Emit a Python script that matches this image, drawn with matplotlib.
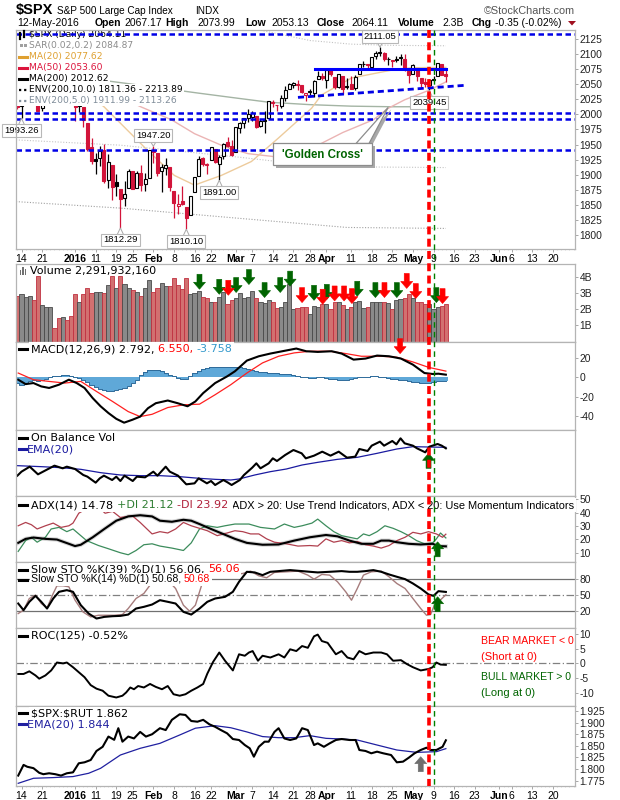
import numpy as np
import matplotlib
matplotlib.use('Agg')
import matplotlib.pyplot as plt
from matplotlib.patches import Rectangle, Polygon
from matplotlib.lines import Line2D
from matplotlib.transforms import IdentityTransform

plt.rcParams['font.family'] = ['Liberation Sans', 'DejaVu Sans']

W, H = 620, 800
L, R = 16, 575
X0, DX = 21.5, 4.12          # pixel of day 0 and pixels per trading day
XLIM = ((L - X0) / DX, (R - X0) / DX)

# ---- $SPX daily, 11-Dec-2015 .. 12-May-2016 (day 0 = 14-Dec) ----
day = np.arange(-1, 104)
opens = [2047.27, 2013.37, 2025.55, 2046.50, 2073.76, 2040.81, 2010.27, 2023.15, 2042.20, 2063.52,
         2057.77, 2060.54, 2077.34, 2060.59, 2038.20, 2013.78, 2011.71, 1985.32, 1945.97, 1926.12,
         1927.83, 1940.34, 1891.68, 1916.68, 1888.66, 1876.18, 1861.46, 1877.40, 1906.28, 1878.79,
         1902.52, 1885.22, 1894.00, 1936.94, 1935.26, 1907.07, 1911.67, 1913.07, 1873.25, 1848.46,
         1857.10, 1847.00, 1833.40, 1871.44, 1898.80, 1927.57, 1916.74, 1924.44, 1942.38, 1917.56,
         1931.87, 1954.95, 1947.13, 1937.09, 1976.60, 1985.60, 1994.01, 1996.11, 1996.88, 1981.44,
         1990.97, 1994.71, 2019.27, 2015.27, 2014.24, 2026.90, 2041.16, 2048.64, 2048.64, 2048.55,
         2032.48, 2037.89, 2035.75, 2058.27, 2063.77, 2056.62, 2073.19, 2062.50, 2045.56, 2063.01,
         2045.54, 2050.23, 2043.72, 2065.92, 2082.89, 2083.10, 2078.83, 2096.05, 2101.52, 2102.09,
         2091.49, 2089.37, 2089.84, 2092.57, 2090.93, 2071.82, 2067.17, 2077.18, 2060.30, 2052.95,
         2047.77, 2057.55, 2062.63, 2083.29, 2067.17]
highs = [2047.27, 2022.92, 2053.87, 2076.72, 2076.37, 2040.81, 2022.90, 2042.74, 2064.73, 2067.36,
         2057.77, 2081.56, 2077.34, 2062.54, 2038.20, 2021.94, 2011.71, 1985.32, 1960.40, 1935.65,
         1947.38, 1950.33, 1934.47, 1916.68, 1901.44, 1876.18, 1889.85, 1908.85, 1906.28, 1906.73,
         1916.99, 1902.96, 1940.24, 1947.20, 1935.26, 1918.01, 1927.35, 1913.07, 1873.25, 1868.25,
         1881.60, 1847.00, 1864.78, 1895.77, 1930.68, 1930.00, 1918.78, 1946.70, 1942.38, 1932.08,
         1951.83, 1962.96, 1958.27, 1978.35, 1986.51, 1993.69, 2009.13, 2006.12, 1996.88, 1992.69,
         2005.08, 2022.37, 2024.06, 2015.94, 2032.02, 2046.24, 2052.36, 2053.91, 2056.60, 2048.55,
         2036.04, 2042.67, 2055.91, 2072.21, 2067.92, 2075.07, 2074.02, 2062.50, 2067.33, 2063.01,
         2060.63, 2062.93, 2065.05, 2083.18, 2087.84, 2083.22, 2094.66, 2104.05, 2111.05, 2103.78,
         2094.32, 2089.37, 2096.87, 2099.89, 2099.30, 2073.85, 2083.42, 2077.18, 2060.30, 2060.23,
         2057.72, 2064.15, 2084.87, 2083.29, 2073.99]
lows = [2008.80, 1993.26, 2025.55, 2042.43, 2041.66, 2005.33, 2005.93, 2020.49, 2042.20, 2058.73,
        2044.20, 2060.54, 2061.97, 2043.62, 1989.68, 2004.17, 1979.05, 1938.83, 1918.46, 1901.10,
        1914.35, 1886.41, 1878.93, 1857.83, 1864.60, 1812.29, 1848.98, 1877.40, 1875.97, 1878.79,
        1872.70, 1873.65, 1894.00, 1920.03, 1897.29, 1872.23, 1900.52, 1872.65, 1828.46, 1834.94,
        1850.32, 1810.10, 1833.40, 1871.44, 1898.80, 1915.09, 1902.17, 1924.44, 1919.44, 1891.00,
        1925.41, 1945.78, 1931.81, 1937.09, 1968.80, 1977.37, 1986.77, 1989.38, 1977.43, 1979.84,
        1969.25, 1994.71, 2012.05, 2005.23, 2010.04, 2022.16, 2041.16, 2043.14, 2040.57, 2034.86,
        2022.49, 2031.96, 2028.31, 2058.27, 2057.46, 2043.98, 2062.57, 2042.56, 2043.09, 2033.80,
        2041.69, 2041.88, 2039.74, 2065.92, 2078.13, 2076.31, 2073.65, 2091.68, 2096.32, 2088.52,
        2081.20, 2077.52, 2085.80, 2082.31, 2071.62, 2052.28, 2066.11, 2054.89, 2045.55, 2045.77,
        2039.45, 2054.31, 2062.63, 2064.46, 2053.13]
closes = [2012.37, 2021.94, 2043.41, 2073.07, 2041.89, 2005.55, 2021.15, 2038.97, 2064.29, 2060.99,
          2056.50, 2078.36, 2063.36, 2043.94, 2012.66, 2016.71, 1990.26, 1943.09, 1922.03, 1923.67,
          1938.68, 1890.28, 1921.84, 1880.33, 1881.33, 1859.33, 1868.99, 1906.90, 1877.08, 1903.63,
          1882.95, 1893.36, 1940.24, 1939.38, 1903.03, 1912.53, 1915.45, 1880.05, 1853.44, 1852.21,
          1851.86, 1829.08, 1864.78, 1895.58, 1926.82, 1917.83, 1917.78, 1945.50, 1921.27, 1929.80,
          1951.70, 1948.05, 1932.23, 1978.35, 1986.45, 1993.40, 1999.99, 2001.76, 1979.26, 1989.26,
          1989.57, 2022.19, 2019.64, 2015.93, 2027.22, 2040.59, 2049.58, 2051.60, 2049.80, 2036.71,
          2035.94, 2037.05, 2055.01, 2063.95, 2059.74, 2072.78, 2066.13, 2045.17, 2066.66, 2041.91,
          2047.60, 2041.99, 2061.72, 2082.42, 2082.78, 2080.73, 2094.34, 2100.80, 2102.40, 2091.48,
          2091.58, 2087.79, 2091.70, 2095.15, 2075.81, 2065.30, 2081.43, 2063.37, 2051.12, 2050.63,
          2057.14, 2058.69, 2084.39, 2064.46, 2064.11]
volume_b = [2.81, 2.91, 2.77, 2.81, 2.56, 4.04, 2.26, 2.10, 2.10, 0.86,
            1.48, 1.54, 1.33, 1.58, 2.93, 2.46, 2.93, 3.32, 3.01, 3.08,
            3.04, 2.97, 3.49, 4.05, 3.28, 4.05, 3.53, 3.32, 3.18, 3.08,
            2.81, 3.32, 3.78, 3.08, 3.32, 3.59, 3.43, 3.43, 3.90, 3.49,
            3.22, 3.90, 2.91, 2.97, 3.12, 2.77, 2.71, 2.46, 2.46, 2.77,
            3.04, 2.30, 2.56, 2.71, 2.97, 2.71, 2.77, 3.12, 2.71, 2.46,
            2.36, 2.56, 2.46, 2.05, 2.10, 2.41, 3.53, 2.00, 2.05, 2.15,
            2.10, 1.68, 2.20, 2.15, 2.30, 2.30, 2.00, 2.46, 2.41, 2.26,
            2.00, 2.10, 2.46, 2.51, 2.05, 2.10, 2.41, 2.41, 2.46, 2.41,
            2.36, 2.00, 2.56, 2.61, 2.71, 2.92, 2.71, 2.46, 2.41, 2.30,
            2.30, 2.00, 2.10, 2.20, 2.29]

# overlays (day, value)
ma20_x = [0, 10, 16, 20.1, 30.8, 37.1, 42, 48.5, 55.8, 62.4, 70.4, 72.8, 80.1, 89.8, 94.6, 103]
ma20_v = [2045, 2052, 2035, 2012, 1939, 1899, 1883, 1899, 1922, 1961, 2010, 2032, 2060, 2073, 2077, 2077.6]
ma50_x = [0, 12, 22, 29.1, 36.4, 42, 49.5, 55, 62.1, 66, 72.8, 78, 85.4, 89, 93, 99, 103]
ma50_v = [2062, 2058, 2035, 2012, 1991, 1968, 1946, 1935, 1929.5, 1935, 1952, 1970, 1991, 2010, 2024, 2040, 2053.6]
ma200_x = [-2, 10, 20, 30, 43, 52, 60, 70, 80, 90, 103]
ma200_v = [2064, 2060, 2056, 2047, 2035, 2027, 2020, 2016, 2013.5, 2012.5, 2012.6]
env5_up_x = [40, 56, 63, 70, 80, 90, 103]
env5_up_v = [2152, 2142, 2132, 2122, 2116, 2114, 2113.3]
env5_lo_x = [-2, 24, 53, 70, 84, 103]
env5_lo_v = [1958, 1949, 1929, 1916, 1913, 1912]
env10_lo_x = [-2, 24, 53, 79, 103]
env10_lo_v = [1856, 1845, 1828, 1813, 1811.4]

# MACD(12,26,9)
macd_x = [-0.8, 1.0, 2.9, 4.8, 6.7, 9.1, 11.5, 13.4, 15.3, 17.3, 19.2, 21.1, 23.0, 24.9, 26.9, 28.8,
          30.7, 32.6, 35.5, 37.9, 40.3, 42.2, 44.1, 47.0, 49.9, 51.8, 54.7, 57.6, 60.4, 63.3, 66.7,
          69.1, 71.9, 75.3, 77.7, 80.6, 83.5, 86.3, 89.2, 92.1, 95.0, 97.8, 99.8, 101.2, 103]
macd_v = [-2.4, -7, -5.9, -9.4, -11, -7.6, -2.4, -5.9, -11, -21.6, -30, -37, -43, -47, -44, -40.7,
          -32, -26.8, -24, -26.8, -30, -25, -16.3, -5.9, 1, 6.3, 17.4, 21.9, 24.7, 27.1, 29.9,
          27.1, 26.4, 27.1, 24.7, 18.4, 19.5, 22.6, 21.9, 19.5, 13.2, 4.5, 3.5, 3.8, 2.8]
signal_x = [-0.8, 2.9, 6.7, 10.5, 14.4, 18.2, 22.1, 25.9, 28.8, 31.7, 35.5, 39.3, 43.2, 47.0, 50.8,
            54.7, 58.5, 62.4, 66.2, 70.0, 74.8, 78.7, 82.5, 87.3, 91.1, 95.0, 98.8, 103]
signal_v = [4.5, -2.4, -4.2, -5.9, -4.2, -14.6, -25, -35.5, -40.7, -38.3, -31.3, -28.5, -27.8, -18,
            -7.6, 4.5, 15, 21.9, 25.4, 27.1, 27.1, 24.7, 21.9, 21.9, 20.9, 16, 10.4, 6.5]
macd_hist = [-6, -8, -6, -4, -3, -4, -3, -2, 0, 1,
             1, 2, 2, 1, 0, -1, -3, -5, -8, -10,
             -12, -13, -14, -14, -13, -12, -11, -9, -6, -3,
             2, 6, 8, 8, 8, 7, 5, 2, 1, -1,
             -2, -2, 1, 5, 7, 9, 10, 11, 11, 11,
             11, 11, 11, 11, 11, 10, 9, 8, 7, 6,
             6, 5, 5, 5, 4, 4, 3, 2, 1, 0,
             0, -1, -1, 0, 0, -1, -2, -2, -3, -3,
             -3, -2, -1, 0, 0, 0, 1, 1, 0, 0,
             -1, -2, -2, -3, -3, -4, -5, -5, -6, -6,
             -6, -5, -4, -4, -3.8]

# On Balance Volume (panel units, no scale shown)
obv_x = [-1, 0, 2, 4, 6, 8, 10, 11, 13, 15, 16, 18, 19, 20, 22, 23, 24, 25, 27, 28,
         30, 32, 33, 35, 36, 38, 40, 42, 43, 45, 46, 47, 49, 50, 51, 53, 54, 56, 57, 58,
         60, 61, 62, 64, 66, 68, 69, 71, 73, 75, 77, 79, 81, 82, 84, 85, 87, 88, 90, 91,
         92, 93, 95, 96, 98, 99, 101, 102, 103]
obv_v = [61, 73, 88, 65, 78, 91, 83, 88, 81, 63, 58, 40, 53, 61, 48, 58, 45, 61, 45, 58,
         56, 73, 61, 88, 73, 61, 35, 38, 53, 38, 45, 33, 48, 41, 33, 48, 63, 85, 98, 83,
         98, 113, 105, 123, 138, 128, 113, 121, 133, 121, 133, 115, 118, 141, 135, 151, 163, 151, 165, 155,
         173, 158, 151, 143, 131, 148, 156, 151, 143]
obv_ema_x = [-1, 4.8, 9.6, 14.4, 19.2, 24, 28.8, 33.6, 38.4, 43.2, 47, 50.8, 52.8, 56.6, 60.4,
             64.3, 68.1, 71.9, 76.7, 81.5, 86.3, 91.1, 95, 98.8, 103]
obv_ema_v = [91, 88, 85, 80, 70, 63, 61, 61, 58, 53, 50, 48, 51, 63, 73,
             81, 93, 101, 110, 116, 128, 141, 148, 147, 146]

# ADX(14)
adx_x = [-0.8, 1.0, 2.9, 5.8, 8.6, 11.5, 13.0, 14.4, 17.3, 20.1, 23.0, 25.9, 28.8, 31.7, 33.6, 36.5,
         39.3, 41.2, 43.2, 46.0, 48.9, 51.8, 54.7, 58.5, 62.4, 66.2, 70.0, 73.9, 76.7, 79.6, 82.5,
         85.4, 87.3, 89.2, 91.1, 94.0, 96.9, 99.8, 101.2, 103]
adx_v = [17.4, 20.4, 21.4, 20.4, 19.9, 16.7, 15, 16, 21.6, 27.8, 34, 37.2, 38.1, 37.2, 34, 33.2,
         34.7, 34, 31.5, 27.8, 24.1, 20.4, 17.4, 16, 16.2, 19.1, 21.6, 23.3, 22.3, 19.1, 16.7,
         16.7, 19.1, 19.1, 17.9, 16.7, 16.2, 16.7, 15, 14.8]
pdi_x = [-0.8, 1.0, 2.4, 3.8, 5.8, 7.2, 9.1, 11.0, 12.5, 13.9, 15.8, 18.7, 21.1, 24.0, 25.9, 27.8,
         29.7, 31.7, 33.6, 36.5, 39.3, 41.2, 43.2, 45.1, 47.5, 49.4, 51.8, 55.2, 58.0, 61.4, 63.8,
         66.2, 68.1, 70.5, 71.9, 73.9, 75.8, 77.7, 79.6, 81.5, 83.0, 84.4, 86.3, 88.2, 90.2, 92.1,
         94.0, 95.9, 97.8, 99.8, 100.7, 101.7, 103]
pdi_v = [11, 19.1, 21.6, 17.9, 21.6, 27.8, 29, 25.8, 27.8, 24.1, 19.1, 15.4, 13, 10, 8.5, 11.7,
         16, 16.7, 15, 13.5, 11.7, 17.4, 27.8, 30.2, 29, 30.2, 31.5, 31.5, 29, 27.8, 31.5,
         29, 30.2, 32.2, 35.2, 30.2, 25.8, 22.8, 21.6, 20.4, 24.1, 22.8, 25.8, 30.2, 28.3, 25.8,
         22.8, 19.1, 16.7, 17.4, 20.4, 24.8, 21.1]
mdi_x = [-0.8, 1.0, 2.4, 3.8, 5.8, 7.7, 9.6, 11.5, 12.5, 13.9, 14.9, 15.8, 17.7, 19.2, 20.3, 22.1,
         24.0, 26.9, 28.8, 31.7, 33.6, 35.5, 37.4, 39.3, 41.2, 43.2, 45.1, 47.5, 49.9, 51.8, 53.7,
         55.6, 57.6, 59.5, 61.4, 64.3, 67.1, 70.0, 71.9, 73.9, 75.8, 77.7, 79.6, 81.5, 83.5, 85.4,
         87.3, 89.2, 91.1, 93.1, 95.0, 96.9, 98.8, 100.7, 102.2, 103]
mdi_v = [30.2, 32.7, 31, 27.8, 30.2, 32.2, 29, 30.2, 32.2, 39.6, 41.4, 44, 46, 42.6, 39.6, 41,
         36.4, 37.7, 32.7, 24.1, 25.8, 24.8, 27.8, 32.7, 30.2, 28.3, 26.5, 22.8, 24.8, 26.5, 25.8,
         24.1, 24.1, 20.4, 17.9, 16.7, 15, 15.4, 15, 20.4, 17.9, 19.1, 17.4, 18.4, 16, 15,
         13.5, 15.4, 19.1, 21.6, 25.3, 24.1, 25.8, 24.1, 21.6, 23.9]

# Slow stochastics
sto39_x = [-0.8, 0.5, 1.9, 3.4, 4.8, 6.2, 7.7, 9.1, 11.0, 12.5, 14.4, 16.3, 18.2, 20.1, 22.1, 24.0,
           25.9, 27.8, 29.7, 31.7, 33.6, 35.5, 37.4, 39.3, 41.2, 43.2, 45.1, 47.0, 49.4, 51.3, 52.8,
           54.7, 56.6, 58.5, 60.4, 62.4, 65.2, 68.1, 70.0, 71.9, 74.8, 77.7, 79.6, 81.5, 83.5, 85.4,
           87.3, 89.2, 91.1, 93.1, 95.0, 96.9, 98.8, 100.0, 101.2, 103]
sto39_v = [34.2, 21.6, 37.4, 48.7, 37.4, 24.7, 43.7, 56.3, 59.5, 56.3, 31, 15.2, 5.8, 8.9, 10.2, 10.8,
           13.3, 24.7, 27.9, 32.3, 40.5, 37.4, 34.2, 18.4, 13.3, 24.7, 37.4, 43.7, 46.8, 56.3, 75.3,
           94.2, 93, 87.9, 94.2, 95.5, 97.4, 95.5, 94.2, 93, 94.2, 95.5, 94.2, 94.2, 95.5, 97.4,
           94.2, 89.2, 84.8, 80.3, 72.1, 62.6, 51.3, 48.7, 57.6, 56.1]
sto14_x = [-0.8, 0.5, 1.9, 3.4, 4.8, 6.2, 7.7, 8.6, 10.1, 11.5, 13.0, 14.9, 16.8, 18.7, 20.6, 22.5,
           24.5, 25.9, 27.8, 29.7, 31.2, 32.1, 33.6, 35.5, 37.4, 39.3, 40.8, 42.2, 44.1, 46.0, 48.9,
           51.8, 53.7, 55.6, 57.6, 59.5, 61.4, 64.3, 67.1, 69.5, 71.0, 72.9, 74.8, 76.7, 78.7, 80.1,
           81.5, 83.0, 84.9, 87.3, 89.2, 91.1, 93.1, 95.0, 96.9, 98.3, 99.3, 100.2, 101.2, 103]
sto14_v = [15.2, 21.6, 43.7, 50, 34.2, 26, 53.2, 67.7, 67.7, 65.8, 40.5, 18.4, 8.9, 12, 12, 12,
           13.3, 24.7, 43.7, 53.2, 69, 81.6, 91, 78.4, 62.6, 31, 19.7, 31, 78.4, 87.9, 89.2,
           89.2, 91, 95.5, 86.6, 82.9, 93, 94.2, 95.5, 87.9, 80.3, 89.2, 87.9, 75.3, 56.3, 40.5,
           62.6, 87.9, 94.2, 95.5, 84.8, 72.1, 62.6, 43.7, 24.7, 12, 13.3, 31, 37.4, 50.7]

# ROC(125), %
roc_x = [-0.8, 0.5, 1.9, 3.4, 4.3, 5.8, 7.2, 8.6, 10.1, 11.0, 12.5, 13.9, 15.3, 16.8, 18.2, 19.7,
         21.1, 23.0, 24.5, 25.4, 26.4, 27.3, 28.3, 29.7, 31.2, 32.6, 34.1, 35.5, 36.9, 38.4, 39.8,
         41.2, 42.7, 44.1, 45.1, 46.5, 48.0, 49.4, 51.3, 52.8, 54.2, 55.2, 56.1, 57.4, 58.5, 60.4,
         62.4, 63.8, 65.2, 66.7, 68.1, 69.5, 71.0, 71.9, 72.9, 74.3, 76.3, 77.7, 79.1, 80.6, 82.0,
         83.5, 85.4, 87.3, 88.7, 90.2, 92.1, 93.5, 95.0, 96.9, 98.8, 99.8, 100.7, 101.7, 103]
roc_v = [-3.6, -3.6, -2.7, -4.1, -5.2, -4.1, -2.4, 0.3, 0, 0.3, -1.3, -3, -4.7, -7.4, -8.6, -9.3,
         -11, -11.6, -11, -9.9, -8.2, -8.8, -7.7, -8.2, -7, -8, -8.8, -7.7, -10.5, -11, -10.5,
         -9.3, -8.2, -7, -3.5, 0.5, 3.7, 0.9, -2.4, 3.1, 2.6, 3.7, 4.2, 0.9, 2.6, 2,
         3.1, 2, 4.8, 4.2, 5.9, 5.3, 9.2, 9.8, 7.6, 7, 3.1, 4.2, 2, 1.4, 4.2,
         3.1, 3.7, 3.7, 3.1, 0.9, 1.1, -0.2, -1.3, -2.4, -1.9, -1.3, 0.3, -0.4, -0.5]

# $SPX:$RUT ratio
ratio_x = [-0.8, 0.5, 1.4, 2.9, 4.3, 5.3, 6.7, 8.2, 9.6, 11.0, 12.5, 13.9, 15.3, 16.8, 18.2, 19.7,
           21.1, 22.5, 23.5, 24.5, 25.9, 27.3, 28.8, 30.2, 31.7, 33.6, 35.0, 36.5, 38.4, 39.8, 41.2,
           42.7, 44.1, 45.6, 47.0, 48.4, 49.9, 51.3, 52.8, 54.2, 55.4, 56.4, 57.6, 59.0, 60.0, 61.4,
           62.4, 63.8, 65.2, 66.7, 68.1, 69.5, 71.0, 71.9, 73.4, 74.8, 76.3, 77.7, 79.6, 81.1, 82.0,
           83.5, 84.9, 86.3, 87.8, 89.7, 91.1, 92.6, 94.0, 95.4, 96.9, 98.3, 99.3, 100.7, 102.2, 103]
ratio_v = [1.786, 1.809, 1.805, 1.802, 1.792, 1.789, 1.791, 1.789, 1.786, 1.791, 1.793, 1.8125,
           1.8146, 1.8196, 1.839, 1.848, 1.870, 1.863, 1.888, 1.859, 1.870, 1.866, 1.880, 1.870,
           1.875, 1.888, 1.884, 1.906, 1.918, 1.9165, 1.9035, 1.902, 1.906, 1.8964, 1.891, 1.884,
           1.877, 1.8647, 1.8626, 1.8518, 1.8447, 1.8267, 1.848, 1.859, 1.859, 1.8801, 1.888, 1.866,
           1.8626, 1.866, 1.888, 1.884, 1.8518, 1.8554, 1.848, 1.8554, 1.8626, 1.8647, 1.8626,
           1.8626, 1.8411, 1.839, 1.834, 1.8375, 1.834, 1.8303, 1.8146, 1.816, 1.8245, 1.834,
           1.8411, 1.8461, 1.8411, 1.8411, 1.848, 1.862]
ratio_ema_x = [-0.8, 2.9, 7.7, 12.5, 16.3, 19.2, 24.0, 28.8, 33.6, 38.4, 42.2, 47.0, 50.8, 54.7,
               58.5, 62.4, 66.2, 70.0, 73.9, 77.7, 81.5, 86.3, 91.1, 95.9, 100.7, 103]
ratio_ema_v = [1.7694, 1.7802, 1.7817, 1.7839, 1.791, 1.8017, 1.8303, 1.8447, 1.8554, 1.8734,
               1.888, 1.8934, 1.889, 1.880, 1.870, 1.8676, 1.8676, 1.872, 1.8662, 1.8647, 1.8626,
               1.8518, 1.8411, 1.836, 1.8375, 1.844]

# date axis
tick_day = [0, 5, 13, 18, 23, 27, 32, 37, 42, 46, 52, 56, 61, 66, 70, 74, 80, 85, 90, 95, 100,
            105, 110, 116, 119, 124, 129]
tick_lab = ['14', '21', '2016', '11', '19', '25', 'Feb', '8', '16', '22', 'Mar', '7', '14', '21',
            '28', 'Apr', '11', '18', '25', 'May', '9', '16', '23', 'Jun', '6', '13', '20']
month_labels = {'2016', 'Feb', 'Mar', 'Apr', 'May', 'Jun'}

# chart annotations
price_lines = [2133, 2001.5, 1992.5, 1941]
resist_day, resist_val = (71.2, 103), 2075.5
trend_day, trend_val = (67.1, 107.8), (2028, 2048)
mark_days = [0, 24, 32, 40, 48, 87, 99]
mark_side = ['low', 'low', 'high', 'low', 'low', 'high', 'low']
vol_green = [(43.2, 3.22), (48.0, 2.91), (52.1, 3.02), (55.2, 3.51), (59.0, 2.71), (62.8, 3.02),
             (65.2, 3.41), (71.0, 2.54), (74.1, 2.60), (81.5, 2.79), (85.9, 2.71), (91.1, 2.71),
             (100.7, 2.40)]
vol_red = [(50.2, 2.85), (68.1, 2.40), (73.1, 2.30), (76.0, 2.50), (78.3, 2.50), (80.2, 2.34),
           (88.1, 2.71), (93.5, 3.27), (95.7, 2.65), (102.2, 2.34)]
red_vline, green_vline = 99, 100

RED = '#D2143A'
fig = plt.figure(figsize=(W / 100, H / 100), dpi=100, facecolor='white')
rend = fig.canvas.get_renderer()


def axes_px(top, bottom):
    return fig.add_axes([L / W, 1 - bottom / H, (R - L) / W, (bottom - top) / H])


def style(ax, ylim, ticks=None, labels=None):
    ax.set_xlim(XLIM)
    ax.set_ylim(ylim)
    for s in ax.spines.values():
        s.set_color('#B4B4B4')
        s.set_linewidth(0.9)
        s.set_zorder(10)
    ax.tick_params(axis='x', bottom=False, labelbottom=False)
    ax.yaxis.tick_right()
    if ticks is None:
        ax.set_yticks([])
    else:
        ax.set_yticks(ticks)
        ax.set_yticklabels(labels if labels else [str(t) for t in ticks])
    ax.tick_params(axis='y', length=2.2, width=0.6, color='#999999', labelsize=7.4,
                   pad=1.2, labelcolor='#222222')


def date_axis(ax):
    ax.set_xticks(tick_day)
    ax.set_xticklabels(tick_lab)
    ax.set_xticks(np.arange(-1, 135), minor=True)
    ax.tick_params(axis='x', which='major', bottom=True, labelbottom=True, length=2,
                   width=0.6, color='#999999', labelsize=7.5, pad=1.5)
    ax.tick_params(axis='x', which='minor', bottom=True, length=1, width=0.4, color='#BBBBBB')
    for t in ax.get_xticklabels():
        if t.get_text() in month_labels:
            t.set_fontweight('bold')


def row(x, y, parts, size=8, family='DejaVu Sans', ax=None, bg=True, z=5, weight='normal'):
    for s, col in parts:
        kw = dict(color=col, fontsize=size, family=family, va='center', ha='left', zorder=z,
                  fontweight=weight)
        if bg:
            kw['bbox'] = dict(boxstyle='square,pad=0.14', fc='white', ec='none')
        if ax is None:
            t = fig.text(x / W, 1 - y / H, s, **kw)
        else:
            t = ax.text(x / W, 1 - y / H, s, transform=fig.transFigure, **kw)
        x += t.get_window_extent(rend).width
    return x


def dash_icon(y, color, x0=19, x1=27, lw=2.2, ls='-'):
    fig.add_artist(Line2D([x0, x1], [H - y, H - y], transform=IdentityTransform(),
                          color=color, lw=lw, ls=ls, zorder=6))


def arrow(ax, x, y, up, color):
    X, Y = ax.transData.transform((x, y))
    s = -1 if up else 1
    shape = [(-2.5, 15), (2.5, 15), (2.5, 7), (6, 7), (0, 0), (-6, 7), (-2.5, 7)]
    pts = [(X + dx, Y + s * dy) for dx, dy in shape]
    fig.add_artist(Polygon(pts, closed=True, transform=IdentityTransform(), fc=color,
                           ec=color, lw=0.4, zorder=1))


# ---------------- price panel ----------------
ax_p = axes_px(29.5, 249)
style(ax_p, (1777.4, 2140.2), list(range(1800, 2126, 25)))
date_axis(ax_p)
prev = [opens[0]] + closes[:-1]
for d, o, h, l, c, pc in zip(day, opens, highs, lows, closes, prev):
    col = RED if c < pc else 'black'
    ax_p.plot([d, d], [l, h], color=col, lw=0.9, zorder=3, solid_capstyle='butt')
    ax_p.add_patch(Rectangle((d - 0.36, min(o, c)), 0.72, max(abs(c - o), 0.6),
                             fc=col if c < o else 'white', ec=col, lw=0.8, zorder=4))
ax_p.plot(ma200_x, ma200_v, color='#A4B4A4', lw=1.0, zorder=2)
ax_p.plot(ma50_x, ma50_v, color='#EBB4B4', lw=1.0, zorder=2)
ax_p.plot(ma20_x, ma20_v, color='#EDCB9C', lw=1.0, zorder=2)
ax_p.plot(env5_up_x, env5_up_v, color='#C4C4C4', lw=0.8, ls=(0, (1, 1.5)), zorder=2)
ax_p.plot(env5_lo_x, env5_lo_v, color='#C4C4C4', lw=0.8, ls=(0, (1, 1.5)), zorder=2)
ax_p.plot(env10_lo_x, env10_lo_v, color='#A0A0A0', lw=0.8, ls=(0, (1, 1.5)), zorder=2)
for v in price_lines:
    ax_p.axhline(v, color='#0000E6', lw=1.8, ls=(0, (2.2, 1.4)), zorder=6)
ax_p.plot(resist_day, [resist_val, resist_val], color='#0000FF', lw=2.2, zorder=6)
ax_p.plot(trend_day, trend_val, color='#0000E6', lw=2.0, ls=(0, (2.2, 1.4)), zorder=6)

# white backing of the overlay legend (covers the icon column too)
ax_p.add_patch(Rectangle((16.5 / W, 1 - 106 / H), 13 / W, (106 - 30) / H,
                         transform=fig.transFigure, fc='white', ec='none', zorder=4.9))
legend = [(r"\$SPX (Daily) 2064.11", 'black'), ("SAR(0.02,0.2) 2084.87", '#8C8C8C'),
          ("MA(20) 2077.62", '#DFA030'), ("MA(50) 2053.60", '#DC143C'),
          ("MA(200) 2012.62", 'black'), ("ENV(200,10.0) 1811.36 - 2213.89", 'black'),
          ("ENV(200,5.0) 1911.99 - 2113.26", '#7F8C99')]
for k, (s, c) in enumerate(legend):
    y = 34.7 + 11 * k
    row(29.5, y, [(s, c)], size=6.6, ax=ax_p, z=5)
    if k in (2, 3, 4):
        dash_icon(y, c, 18.5, 27)
    elif k in (5, 6):
        dash_icon(y, c, 18.5, 27.5, lw=1.6, ls=(0, (1, 1.3)))
    elif k == 1:
        for xx in (19.5, 23.5):
            fig.add_artist(Rectangle((xx, H - y - 1.5), 3, 3, transform=IdentityTransform(),
                                     fc='#A0A0A0', ec='none', zorder=6))
    else:
        for xx, a, b in ((19.5, -4, 2), (23.5, -2, 4)):
            fig.add_artist(Line2D([xx, xx], [H - y + a, H - y + b], transform=IdentityTransform(),
                                  color='black', lw=1.6, zorder=6))

ppu = (ax_p.transData.transform((0, 2000))[1] - ax_p.transData.transform((0, 1900))[1]) / 100
for d, side in zip(mark_days, mark_side):
    i = d + 1
    val = highs[i] if side == 'high' else lows[i]
    off = (10.5 if side == 'high' else -12) / ppu
    cy = val + off
    base = cy - np.sign(off) * 5 / ppu
    ax_p.add_patch(Polygon([(d - 0.8, base), (d + 0.8, base), (d, val)], closed=True,
                           fc='white', ec='#A8A8A8', lw=0.7, zorder=7.5, clip_on=False))
    ax_p.text(d, cy, f"{val:.2f}", ha='center', va='center', fontsize=6.8, color='black',
              zorder=8, clip_on=False,
              bbox=dict(boxstyle='square,pad=0.2', fc='white', ec='#B8B8B8', lw=0.8))


def pdata(x, y):
    return ax_p.transData.inverted().transform((x, H - y))


apex = (89, 2011.5)
apex_shadow = ax_p.transData.inverted().transform(ax_p.transData.transform(apex) + np.array([3, -2]))
ax_p.add_patch(Polygon([pdata(359, 145.5), pdata(372, 145.5), apex_shadow], fc='#A8A8A8',
                       ec='none', zorder=7))
ax_p.add_patch(Rectangle(pdata(276, 168), *(pdata(375, 146) - pdata(276, 168)), fc='#A8A8A8',
                         ec='none', zorder=7))
ax_p.add_patch(Polygon([pdata(356, 143.5), pdata(369, 143.5), apex], fc='white', ec='#8C8C8C',
                       lw=0.9, zorder=7.2))
ax_p.add_patch(Rectangle(pdata(273, 165), *(pdata(372, 143) - pdata(273, 165)), fc='white',
                         ec='#8C8C8C', lw=0.9, zorder=7.3))
ax_p.text(*pdata(322.5, 154.5), "'Golden Cross'", ha='center', va='center', fontsize=8.3,
          fontweight='bold', color='#006400', zorder=8)

# ---------------- volume ----------------
ax_v = axes_px(264, 341.7)
style(ax_v, (0, 4.77), [1, 2, 3, 4], ['1B', '2B', '3B', '4B'])
down = [c < pc for c, pc in zip(closes, prev)]
ax_v.bar(day, volume_b, width=1.0, color=['#D27070' if dn else '#8A8A8A' for dn in down],
         edgecolor=['#C03040' if dn else '#4A4A4A' for dn in down], linewidth=0.6, zorder=2)
for xx, hh in ((19.5, 5), (22, 8), (24.5, 6)):
    fig.add_artist(Rectangle((xx, H - 274.5), 1.7, hh, transform=IdentityTransform(),
                             fc='#707070', ec='none', zorder=6))
row(30, 270.8, [("Volume 2,291,932,160", 'black')], size=8, bg=False)

# ---------------- MACD ----------------
ax_m = axes_px(341.7, 430)
style(ax_m, (-54.6, 37), [-40, -20, 0, 20])
ax_m.bar(day, macd_hist, width=1.0, color='#5FA8D8', edgecolor='none', zorder=1)
ax_m.step(day, macd_hist, where='mid', color='#2E6B9A', lw=0.7, zorder=2)
ax_m.plot(signal_x, signal_v, color='#FF2020', lw=0.9, zorder=3)
ax_m.plot(macd_x, macd_v, color='black', lw=1.5, zorder=4)
dash_icon(349, 'black')
row(31, 349, [("MACD(12,26,9) 2.792, ", 'black'), ("6.550, ", '#FF0000'), ("-3.758", '#3399CC')])

# ---------------- OBV ----------------
ax_o = axes_px(430, 496)
style(ax_o, (0, 198))
ax_o.plot(obv_ema_x, obv_ema_v, color='#1A1AA0', lw=0.9, zorder=2)
ax_o.plot(obv_x, obv_v, color='black', lw=1.5, zorder=3)
dash_icon(437.7, 'black')
row(31, 437.7, [("On Balance Vol", 'black')])
dash_icon(449, '#1A1AA0', 19, 26)
row(27, 449, [("EMA(20)", '#1A1AA0')])

# ---------------- ADX ----------------
ax_a = axes_px(496, 561.7)
style(ax_a, (3.3, 52.5), [10, 20, 30, 40, 50])
ax_a.plot(adx_x, adx_v, color='#D6D6D6', lw=3.0, zorder=1)
ax_a.plot(pdi_x, pdi_v, color='#3C8C5C', lw=0.9, zorder=2)
ax_a.plot(mdi_x, mdi_v, color='#B0404E', lw=0.9, zorder=2)
ax_a.plot(adx_x, adx_v, color='black', lw=1.5, zorder=3)
dash_icon(505, 'black')
xe = row(31, 505, [("ADX(14) 14.78 ", 'black'), ("+DI 21.12 ", '#2E7D32'), ("-DI 23.92 ", '#B0203A')])
t = fig.text(1 - (W - 574) / W, 1 - 505 / H,
             "ADX > 20: Use Trend Indicators, ADX < 20: Use Momentum Indicators",
             ha='right', va='center', fontsize=8, color='black',
             bbox=dict(boxstyle='square,pad=0.14', fc='white', ec='none'))
t.set_fontsize(8 * (574 - xe) / t.get_window_extent(rend).width)

# ---------------- Slow STO ----------------
ax_s = axes_px(561.7, 628.3)
style(ax_s, (-12.7, 113.3), [20, 50, 80])
ax_s.axhline(80, color='#707070', lw=0.9, zorder=1)
ax_s.axhline(20, color='#707070', lw=0.9, zorder=1)
ax_s.axhline(50, color='#808080', lw=0.9, ls=(0, (6, 2, 1, 2)), zorder=1)
ax_s.plot(sto14_x, sto14_v, color='#A67C7C', lw=1.0, zorder=2)
ax_s.plot(sto39_x, sto39_v, color='black', lw=1.5, zorder=3)
dash_icon(569.5, 'black')
row(31, 569.5, [("Slow STO %K(39) %D(1) 56.06, ", 'black'), ("56.06", '#FF0000')])
dash_icon(579.5, 'black')
row(31, 579.5, [("Slow STO %K(14) %D(1) 50.68, ", 'black'), ("50.68", '#FF0000')],
    size=7.6, family='Liberation Sans')

# ---------------- ROC ----------------
ax_r = axes_px(628.3, 706)
style(ax_r, (-14.5, 11.94), [-10, -5, 0, 5, 10])
ax_r.axhline(0, color='#808080', lw=0.9, ls=(0, (6, 2, 1, 2)), zorder=1)
ax_r.plot(roc_x, roc_v, color='black', lw=1.4, zorder=3)
dash_icon(635.7, 'black')
row(31, 635.7, [("ROC(125) -0.52%", 'black')])
for s, y, c, w in (("BEAR MARKET < 0", 641, '#FF0000', 92), ("(Short at 0)", 656.7, '#FF0000', 56),
                   ("BULL MARKET > 0", 676.7, '#006400', 90), ("(Long at 0)", 693.3, '#006400', 54)):
    t = fig.text(481 / W, 1 - y / H, s, ha='left', va='center', fontsize=8, color=c)
    t.set_fontsize(8 * w / t.get_window_extent(rend).width)

# ---------------- $SPX:$RUT ----------------
ax_q = axes_px(706, 786)
style(ax_q, (1.7636, 1.9358), [1.775, 1.8, 1.825, 1.85, 1.875, 1.9, 1.925],
      ['1.775', '1.800', '1.825', '1.850', '1.875', '1.900', '1.925'])
date_axis(ax_q)
ax_q.plot(ratio_ema_x, ratio_ema_v, color='#2020A0', lw=0.9, zorder=2)
ax_q.plot(ratio_x, ratio_v, color='black', lw=1.5, zorder=3)
dash_icon(713.3, 'black')
row(31, 713.3, [(r"\$SPX:\$RUT 1.862", 'black')])
dash_icon(724.3, '#2020A0', 19, 26)
row(27, 724.3, [("EMA(20) 1.844", '#2020A0')])

# ---------------- hand-drawn arrows ----------------
for x, y in vol_green:
    arrow(ax_v, x, y, False, '#006400')
for x, y in vol_red:
    arrow(ax_v, x, y, False, '#FF0000')
arrow(ax_m, 91.9, 24.6, False, '#FF0000')
arrow(ax_o, 98.8, 128, True, '#006400')
arrow(ax_a, 101, 18.2, True, '#006400')
arrow(ax_s, 101, 47, True, '#006400')
arrow(ax_q, 96.9, 1.8267, True, '#6E6E6E')

# ---------------- vertical markers ----------------
for d, col, lw, ls in ((red_vline, '#FF0000', 2.6, (0, (2.2, 1.2))),
                       (green_vline, '#008000', 1.0, (0, (4, 3)))):
    xp = ax_p.transData.transform((d, 2000))[0]
    fig.add_artist(Line2D([xp, xp], [H - 29.5, H - 786], transform=IdentityTransform(),
                          color=col, lw=lw, ls=ls, zorder=9))

# ---------------- header ----------------
xe = row(16, 10, [(r"\$SPX", 'black')], size=10.5, family='Liberation Sans', bg=False,
         weight='bold')
xe = row(xe + 4, 10.5, [("S&P 500 Large Cap Index", 'black')], size=7.2,
         family='Liberation Sans', bg=False)
row(xe + 22, 10.5, [("INDX", 'black')], size=7.2, family='Liberation Sans', bg=False)
fig.text(575 / W, 1 - 10.5 / H, "\u00a9StockCharts.com", fontsize=7.8, va='center', ha='right',
         color='#555555')
head = [(17, "12-May-2016", 'normal'), (95, "Open", 'bold'), (124, "2067.17", 'normal'),
        (165, "High", 'bold'), (197, "2073.99", 'normal'), (245, "Low", 'bold'),
        (271, "2053.13", 'normal'), (317, "Close", 'bold'), (351, "2064.11", 'normal'),
        (398, "Volume", 'bold'), (442, "2.3B", 'normal'), (472, "Chg", 'bold'),
        (495, "-0.35 (-0.02%)", 'normal')]
for x, s, wt in head:
    fig.text(x / W, 1 - 22.5 / H, s, fontsize=7.5, fontweight=wt, va='center')
fig.add_artist(Polygon([(568, H - 21), (576, H - 21), (572, H - 25.5)], closed=True,
                       transform=IdentityTransform(), fc='#A01020', ec='none'))

fig.savefig('out.png', dpi=100, facecolor='white')
